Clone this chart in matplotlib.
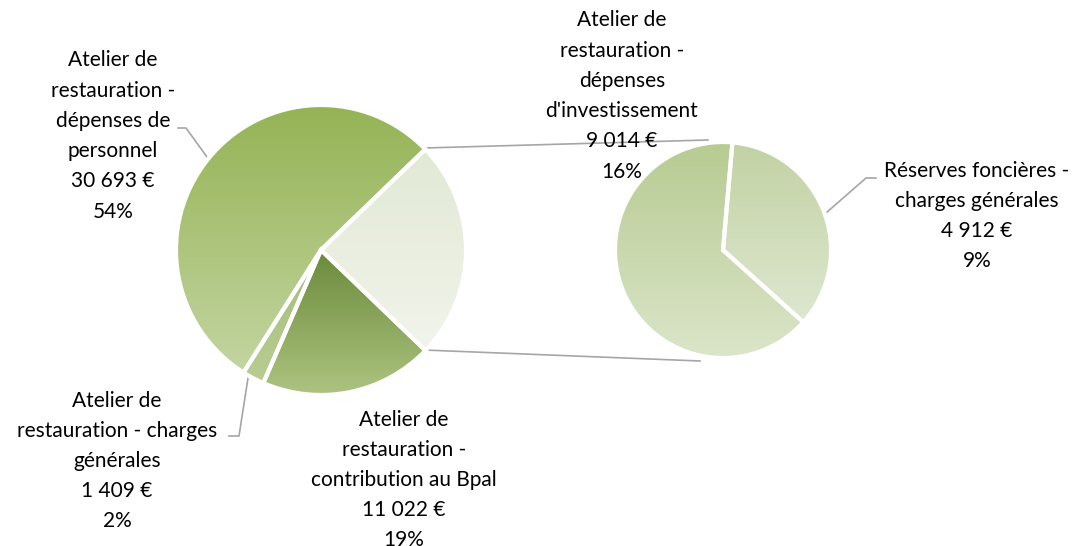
import numpy as np
import matplotlib.pyplot as plt
import matplotlib.colors as mcolors

plt.rcParams['font.family'] = ['Lato', 'DejaVu Sans']

# main pie categories (the last one is split in the second pie)
main_labels = ["Atelier de\nrestauration -\ndépenses de\npersonnel",
               "Atelier de\nrestauration - charges\ngénérales",
               "Atelier de\nrestauration -\ncontribution au Bpal"]
main_values = [30693, 1409, 11022]
sub_labels = ["Atelier de\nrestauration -\ndépenses\nd'investissement",
              "Réserves foncières -\ncharges générales"]
sub_values = [9014, 4912]

# gradient colours per slice (top, bottom)
main_colors = [("#95b355", "#c3d5a1"), ("#a4bc76", "#b9cd93"), ("#6b8a3b", "#adc480")]
other_colors = ("#e2e9d5", "#f1f4eb")
sub_colors = [("#b7cb92", "#dbe5c9"), ("#c2d2a3", "#dee7d0")]

W, H = 1082, 546
total = sum(main_values) + sum(sub_values)


def fmt(v):
    return f"{v:,}".replace(",", " ") + " €\n" + f"{round(100 * v / total)}%"


def shade(ax, wedge, top, bottom):
    x0, y0, x1, y1 = wedge.get_path().get_extents().extents
    c1 = np.array(mcolors.to_rgb(top))
    c2 = np.array(mcolors.to_rgb(bottom))
    t = np.linspace(0, 1, 256)[:, None]
    img = (c1 * (1 - t) + c2 * t)[:, None, :]
    im = ax.imshow(img, extent=(x0, x1, y0, y1), origin='upper', aspect='auto',
                   zorder=1, interpolation='bilinear')
    im.set_clip_path(wedge)
    wedge.set_facecolor('none')
    wedge.set_zorder(2)


fig = plt.figure(figsize=(W / 100, H / 100), dpi=100)
ax = fig.add_axes([0, 0, 1, 1])

# main pie
vals = main_values + [sum(sub_values)]
wedges, _ = ax.pie(vals, center=(321, H - 250), radius=145, startangle=44,
                   counterclock=True, frame=True,
                   wedgeprops=dict(edgecolor='white', linewidth=3))
for w, (c1, c2) in zip(wedges, main_colors + [other_colors]):
    shade(ax, w, c1, c2)

# second pie
sw, _ = ax.pie(sub_values, center=(723, H - 250), radius=108, startangle=85,
               counterclock=True, frame=True,
               wedgeprops=dict(edgecolor='white', linewidth=3))
for w, (c1, c2) in zip(sw, sub_colors):
    shade(ax, w, c1, c2)

ax.set_xlim(0, W)
ax.set_ylim(0, H)
ax.set_aspect('equal')
ax.axis('off')

# connector lines
ax.plot([424, 708], [H - 148, H - 140], color='#a6a6a6', lw=1.2, zorder=0)
ax.plot([424, 700], [H - 350, H - 361], color='#a6a6a6', lw=1.2, zorder=0)

# leader lines
lc = '#a6a6a6'
ax.plot([207, 186, 178], [H - 157, H - 128, H - 128], color=lc, lw=1.2, zorder=0)
ax.plot([248, 239, 229], [H - 378, H - 436, H - 436], color=lc, lw=1.2, zorder=0)
ax.plot([826, 866, 876], [H - 213, H - 178, H - 178], color=lc, lw=1.2, zorder=0)

tk = dict(ha='center', va='center', fontsize=15, color='black', linespacing=1.64, zorder=5)
ax.text(113, H - 136, main_labels[0] + "\n" + fmt(main_values[0]), **tk)
ax.text(117, H - 461, main_labels[1] + "\n" + fmt(main_values[1]), **tk)
ax.text(404, H - 480, main_labels[2] + "\n" + fmt(main_values[2]), **tk)
ax.text(622, H - 96, sub_labels[0] + "\n" + fmt(sub_values[0]), **tk)
ax.text(977, H - 216, sub_labels[1] + "\n" + fmt(sub_values[1]), **tk)

fig.savefig("out.png", dpi=100)
